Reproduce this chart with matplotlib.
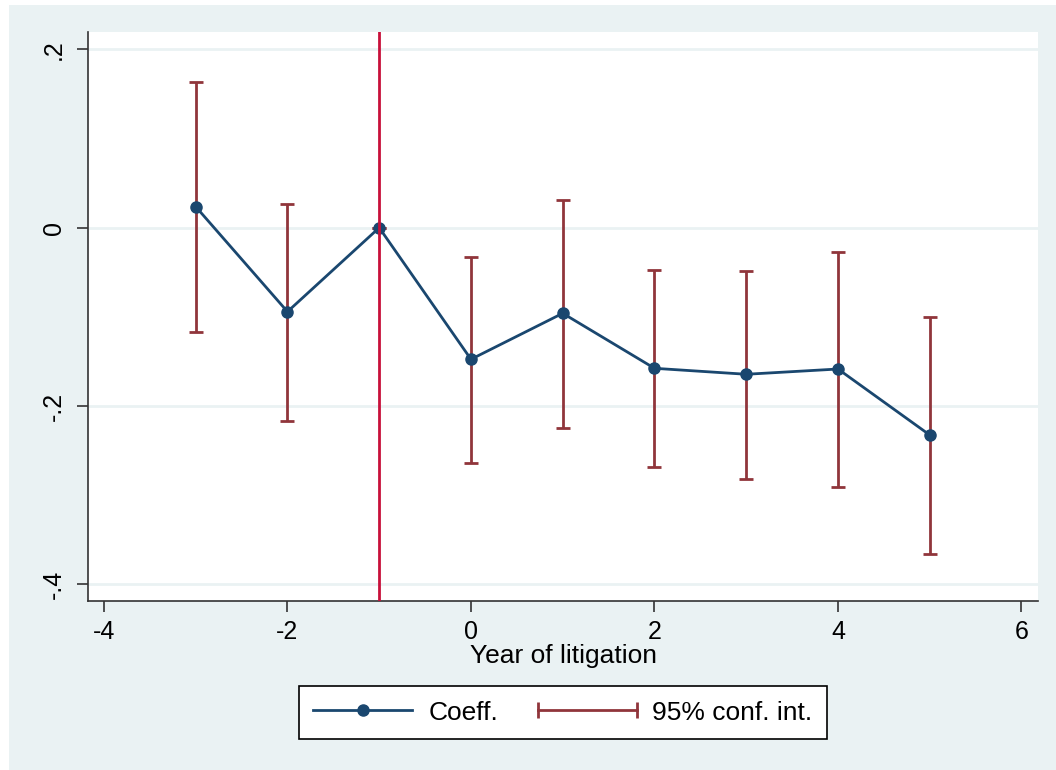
import matplotlib.pyplot as plt
from matplotlib.lines import Line2D
from matplotlib.patches import Rectangle
from matplotlib.legend_handler import HandlerLine2D

plt.rcParams['font.family'] = ['Liberation Sans', 'DejaVu Sans']

# event-study estimates
years = [-3, -2, -1, 0, 1, 2, 3, 4, 5]
coef = [0.0236, -0.0942, 0.0, -0.1476, -0.0960, -0.1577, -0.1644, -0.1585, -0.2325]
ci_low = [-0.1167, -0.2168, 0.0, -0.2636, -0.2243, -0.2688, -0.2815, -0.2909, -0.3660]
ci_high = [0.1634, 0.0269, 0.0, -0.0332, 0.0311, -0.0474, -0.0489, -0.0273, -0.1002]

xticks = [-4, -2, 0, 2, 4, 6]
yticks = [-0.4, -0.2, 0, 0.2]
ytick_labels = ['-.4', '-.2', '0', '.2']

navy = '#1a476f'
maroon = '#90353b'
vline_red = '#c8103a'
bg = '#eaf2f3'

fig = plt.figure(figsize=(10.56, 7.70), dpi=100)
fig.patch.set_facecolor('white')
# Stata-like graph region
fig.patches.append(Rectangle((9 / 1056, 0), 1 - 9 / 1056, 1 - 5 / 770,
                             transform=fig.transFigure, facecolor=bg,
                             edgecolor='none', zorder=-5))

ax = fig.add_axes([88 / 1056, 1 - 601 / 770, (1038 - 88) / 1056, (601 - 32) / 770])
ax.set_facecolor('white')

yerr = [[c - lo for c, lo in zip(coef, ci_low)], [hi - c for c, hi in zip(coef, ci_high)]]
ax.errorbar(years, coef, yerr=yerr, fmt='none', ecolor=maroon, elinewidth=2,
            capsize=5, capthick=2, zorder=3)
ax.plot(years, coef, color=navy, lw=2, marker='o', ms=8, zorder=4)
ax.axvline(-1, color=vline_red, lw=2, zorder=5)

ax.set_xlim(-4.174, 6.18)
ax.set_ylim(-0.4187, 0.2195)
ax.set_xticks(xticks)
ax.set_xticklabels([str(t) for t in xticks])
ax.set_yticks(yticks)
ax.set_yticklabels(ytick_labels, rotation=90, va='center')
ax.grid(axis='y', color=bg, lw=2)
ax.grid(axis='x', visible=False)
ax.set_axisbelow(True)

for s in ['top', 'right']:
    ax.spines[s].set_visible(False)
for s in ['left', 'bottom']:
    ax.spines[s].set_color('#333333')
    ax.spines[s].set_linewidth(1.2)
ax.tick_params(axis='both', colors='#333333', labelcolor='black', length=8,
               width=1.2, labelsize=18)
ax.tick_params(axis='y', pad=8)
ax.tick_params(axis='x', pad=6)
ax.set_xlabel('Year of litigation', fontsize=19, labelpad=0)

h_coef = Line2D([], [], color=navy, lw=2, marker='o', ms=8)
h_ci = Line2D([], [], color=maroon, lw=2, marker='|', ms=12, mew=2)
leg = fig.legend([h_coef, h_ci], ['Coeff.', '95% conf. int.'], loc='center',
                 bbox_to_anchor=(563 / 1056, 1 - 712.5 / 770), ncol=2,
                 fontsize=19, frameon=True, fancybox=False, framealpha=1,
                 handlelength=3.75, handletextpad=0.6, columnspacing=1.5,
                 borderpad=0.55,
                 handler_map={h_ci: HandlerLine2D(numpoints=2, marker_pad=0)})
leg.get_frame().set_edgecolor('black')
leg.get_frame().set_linewidth(1.2)
leg.get_frame().set_facecolor('white')

fig.savefig('out.png', dpi=100)
